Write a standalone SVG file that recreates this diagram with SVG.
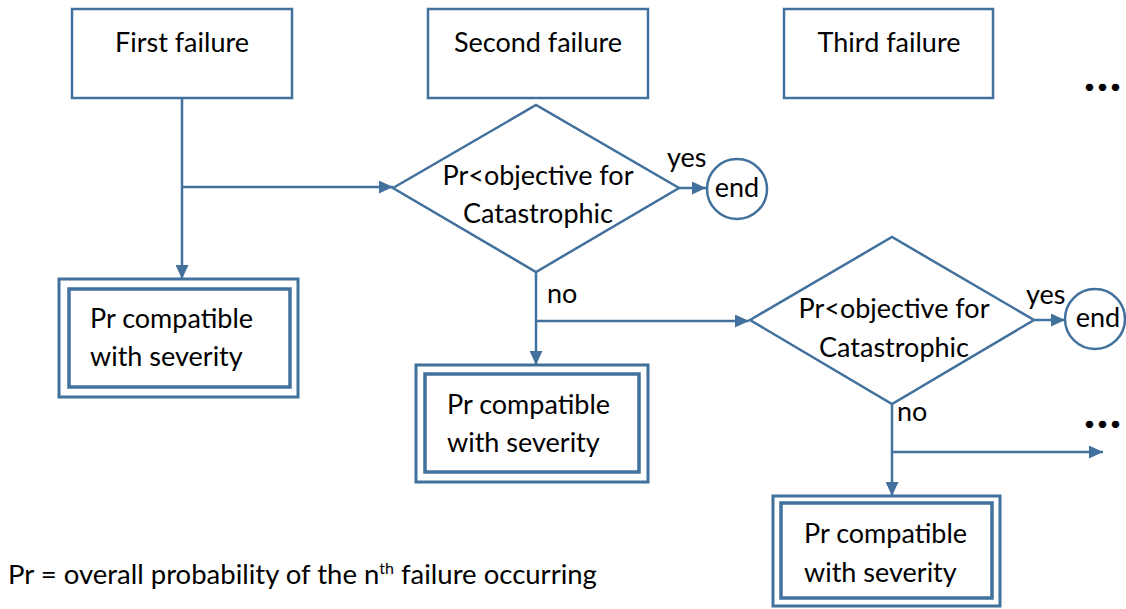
<svg xmlns="http://www.w3.org/2000/svg" width="1126" height="609" viewBox="0 0 1126 609">
<style>
text{font-family:Lato,"Liberation Sans",sans-serif;font-size:27px;fill:#000}
.box{fill:#fff;stroke:#41719C;stroke-width:2.5}
.outer{fill:#fff;stroke:#41719C;stroke-width:3}
.inner{fill:none;stroke:#41719C;stroke-width:3.5}
.dia{fill:#fff;stroke:#41719C;stroke-width:2.5}
.circ{fill:#fff;stroke:#41719C;stroke-width:2.5}
.con{fill:none;stroke:#41719C;stroke-width:2.5;marker-end:url(#ah)}
.c{text-anchor:middle}
.dots{font-weight:900;font-size:46px;letter-spacing:2px}
.leg{font-size:27.5px}
</style>
<defs>
<marker id="ah" markerUnits="userSpaceOnUse" markerWidth="14" markerHeight="13" refX="14" refY="6.5" orient="auto">
<path d="M0,0 L14,6.5 L0,13 z" fill="#41719C"/>
</marker>
</defs>
<g id="connectors">
<path class="con" d="M182,98 V279"/>
<path class="con" d="M182,187 H393"/>
<path class="con" d="M679,188 H706"/>
<path class="con" d="M536,272 V365"/>
<path class="con" d="M536,321 H749"/>
<path class="con" d="M1034,320 H1065"/>
<path class="con" d="M892,405 V496"/>
<path class="con" d="M892,452 H1103"/>
</g>
<g id="first"><rect class="box" x="72" y="9" width="220" height="89"/><text class="c" x="182" y="52">First failure</text></g>
<g id="second"><rect class="box" x="428" y="9" width="220" height="89"/><text class="c" x="538" y="52">Second failure</text></g>
<g id="third"><rect class="box" x="784" y="9" width="209" height="89"/><text class="c" x="889" y="52">Third failure</text></g>
<g id="dots1"><text class="dots" x="1084" y="91">...</text></g>
<g id="decision1"><polygon class="dia" points="393,188 536,105 679,188 536,272"/><text class="c" x="538" y="185">Pr&lt;objective for</text><text class="c" x="538" y="223">Catastrophic</text></g>
<g id="yes1"><text x="667" y="167">yes</text></g>
<g id="end1"><circle class="circ" cx="737" cy="189" r="30"/><text class="c" x="737" y="197">end</text></g>
<g id="compat1"><rect class="outer" x="59" y="279" width="239" height="118"/><rect class="inner" x="69" y="289" width="221" height="98"/><text x="90" y="328">Pr compatible</text><text x="90" y="366">with severity</text></g>
<g id="no1"><text x="547" y="303">no</text></g>
<g id="compat2"><rect class="outer" x="416" y="365" width="232" height="117"/><rect class="inner" x="425" y="374" width="214" height="98"/><text x="447" y="414">Pr compatible</text><text x="447" y="452">with severity</text></g>
<g id="decision2"><polygon class="dia" points="750,320 892,237 1034,320 892,404"/><text class="c" x="894" y="318">Pr&lt;objective for</text><text class="c" x="894" y="357">Catastrophic</text></g>
<g id="yes2"><text x="1026" y="304">yes</text></g>
<g id="end2"><circle class="circ" cx="1095" cy="319" r="30"/><text class="c" x="1098" y="327">end</text></g>
<g id="no2"><text x="897" y="421">no</text></g>
<g id="dots2"><text class="dots" x="1084" y="428">...</text></g>
<g id="compat3"><rect class="outer" x="773" y="496" width="227" height="110"/><rect class="inner" x="781" y="503" width="211" height="95"/><text x="804" y="543">Pr compatible</text><text x="804" y="582">with severity</text></g>
<g id="legend"><text class="leg" x="8" y="584">Pr = overall probability of the n<tspan font-size="16" dy="-10">th</tspan><tspan dy="10"> failure occurring</tspan></text></g>
</svg>
